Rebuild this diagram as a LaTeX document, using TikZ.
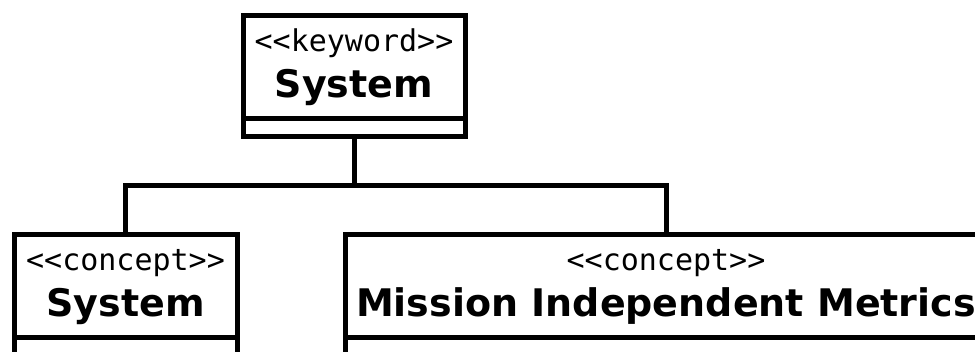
\documentclass[tikz,border=0pt]{standalone}
\usepackage{fontspec}
\setmainfont{DejaVu Sans}
\newfontfamily\stereofont{DejaVu Sans Mono}
\usetikzlibrary{calc}

\begin{document}
\begin{tikzpicture}
[x=1pt,y=-1pt,
  classHead/.style={shape=rectangle,draw,line width=5pt,inner sep=0pt,outer sep=0pt,minimum height=103pt},%
  classBody/.style={shape=rectangle,draw,line width=5pt,inner sep=0pt,outer sep=0pt},%
  stereoText/.style={anchor=base,inner sep=0pt,font=\stereofont\fontsize{30}{36}\selectfont},%
  titleText/.style={anchor=base,inner sep=0pt,font=\fontsize{38}{45}\selectfont\bfseries},%
  darkLine/.style={-,line width=5pt}]
\useasboundingbox (0,0) rectangle (975,352);
\clip (0,0) rectangle (975,352);
%% draw the classes
\foreach \nodename/\x/\y/\w/\h/\kw/\title in {kwSystem/354/16/222/18/keyword/System,
  cSystem/125.5/235/223/80/concept/System,
  cMetrics/666/235/642/80/concept/Mission Independent Metrics}
{
  \node (\nodename) at (\x,\y) [classHead,anchor=north,minimum width=\w pt] {};
  \node (\nodename Attr) at (\nodename.south) [classBody,anchor=north,minimum width=\w pt,minimum height=\h pt] {};
  \node (\nodename Kw) at ([yshift=-36pt]\nodename.north) [stereoText] {<<\kw>>};
  \node (\nodename Title) at ([yshift=-81.5pt]\nodename.north) [titleText] {\title};
}
%% draw the edges
\coordinate (hub) at (354,186);
\draw[darkLine] (kwSystemAttr.south) -- (hub);
\foreach \v in {cSystem, cMetrics}
{
  \draw[darkLine] (hub) -| (\v.north);
}
\end{tikzpicture}
\end{document}
